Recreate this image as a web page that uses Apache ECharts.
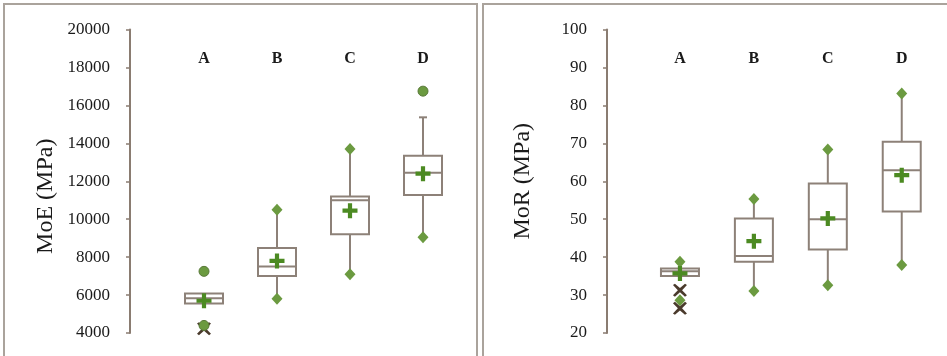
<!DOCTYPE html>
<html>
<head>
<meta charset="utf-8">
<script src="https://cdn.jsdelivr.net/npm/echarts@6/dist/echarts.min.js"></script>
<style>html,body{margin:0;padding:0;background:#fff}#c{width:947px;height:356px}</style>
</head>
<body>
<div id="c"></div>
<script>
// ---- data ----
const categories = ['A', 'B', 'C', 'D'];
// MoE (MPa)
const moeTicks = [4000, 20000, 2000];
const moeQ1     = [5550, 7000, 9200, 11280];
const moeMedian = [5830, 7500, 11000, 12450];
const moeQ3     = [6080, 8480, 11200, 13350];
const moeWhiskerLowEnd  = [5550, 5800, 7100, 9050];
const moeWhiskerHighEnd = [6080, 10500, 13700, 15370];
const moeCap = [0, 0, 0, 1];
const moeDiamonds = [[1, 10500], [1, 5800], [2, 13700], [2, 7100], [3, 9050]];
const moeMean = [5700, 7800, 10450, 12400];
const moeOutliers = [[0, 7250], [3, 16750], [0, 4400]];
const moeExtreme = [[0, 4230]];
// MoR (MPa)
const morTicks = [20, 100, 10];
const morQ1     = [35.0, 38.8, 42.0, 52.0];
const morMedian = [36.3, 40.3, 50.0, 62.9];
const morQ3     = [37.0, 50.2, 59.4, 70.4];
const morWhiskerLowEnd  = [35.0, 31.1, 32.6, 37.9];
const morWhiskerHighEnd = [38.8, 55.3, 68.4, 83.1];
const morCap = [0, 0, 0, 0];
const morDiamonds = [[0, 38.8], [0, 28.6], [1, 55.3], [1, 31.1], [2, 68.4], [2, 32.6], [3, 83.1], [3, 37.9]];
const morMean = [35.7, 44.2, 50.2, 61.6];
const morOutliers = [];
const morExtreme = [[0, 31.3], [0, 26.5]];

// ---- styles ----
const AXIS_C = '#8a7c71';
const BOX_C = '#8d8178';
const GREEN = '#6b9a40';
const PLUS_C = '#4c8a22';
const X_C = '#4a3a2c';
const SERIF = '"Liberation Serif", "DejaVu Serif", serif';
const PLUS_PATH = 'path://M-1.4,-5H1.4V-1.4H5V1.4H1.4V5H-1.4V1.4H-5V-1.4H-1.4Z';
const X_PATH = 'path://M-5,-4L-3.6,-5L0,-1.6L3.6,-5L5,-4L1.5,0L5,4L3.6,5L0,1.6L-3.6,5L-5,4L-1.5,0Z';

function boxData(lo, q1, med, q3, hi, cap) {
  return categories.map((c, i) => [i, lo[i], q1[i], med[i], q3[i], hi[i], cap[i]]);
}

function renderBox(params, api) {
  const i = api.value(0);
  const p = v => api.coord([i, v]);
  const x = p(api.value(2))[0];
  const yLo = p(api.value(1))[1], yQ1 = p(api.value(2))[1], yMed = p(api.value(3))[1];
  const yQ3 = p(api.value(4))[1], yHi = p(api.value(5))[1];
  const hw = 19;
  const ls = {stroke: BOX_C, lineWidth: 2, fill: null};
  const children = [
    {type: 'line', shape: {x1: x, y1: yLo, x2: x, y2: yQ1}, style: ls},
    {type: 'line', shape: {x1: x, y1: yQ3, x2: x, y2: yHi}, style: ls},
    {type: 'rect', shape: {x: x - hw, y: yQ3, width: 2 * hw, height: yQ1 - yQ3}, style: {stroke: BOX_C, lineWidth: 2, fill: '#fff'}},
    {type: 'line', shape: {x1: x - hw, y1: yMed, x2: x + hw, y2: yMed}, style: ls}
  ];
  if (api.value(6)) {
    children.push({type: 'line', shape: {x1: x - 4, y1: yHi, x2: x + 4, y2: yHi}, style: ls});
  }
  return {type: 'group', children};
}

function yAxisCfg(idx, ticks, name, offset, namePad) {
  return {
    type: 'value', gridIndex: idx, min: ticks[0], max: ticks[1], interval: ticks[2],
    offset: offset,
    name: name, nameLocation: 'middle', nameRotate: 90, nameGap: 72,
    nameTextStyle: {fontFamily: SERIF, fontSize: 24, color: '#1a1a1a', padding: namePad},
    axisLine: {show: true, lineStyle: {color: AXIS_C, width: 2}},
    axisTick: {show: true, length: 4, lineStyle: {color: AXIS_C, width: 1.5}},
    axisLabel: {fontFamily: SERIF, fontSize: 17, color: '#1a1a1a', margin: 20,
                formatter: v => String(v)},
    splitLine: {show: false}
  };
}
function xAxisCfg(idx) {
  return {
    type: 'category', gridIndex: idx, data: categories, position: 'top', boundaryGap: true,
    axisLine: {show: false}, axisTick: {show: false},
    axisLabel: {inside: true, margin: 21, fontFamily: SERIF, fontSize: 16, fontWeight: 'bold', color: '#1a1a1a'},
    splitLine: {show: false}
  };
}

function seriesFor(idx, lo, q1, med, q3, hi, cap, diamonds, mean, outliers, extreme) {
  return [
    {type: 'custom', xAxisIndex: idx, yAxisIndex: idx, renderItem: renderBox,
     encode: {x: 0, y: [1, 2, 3, 4, 5]}, data: boxData(lo, q1, med, q3, hi, cap), z: 2},
    {type: 'scatter', xAxisIndex: idx, yAxisIndex: idx, symbol: 'diamond', symbolSize: [11, 12],
     itemStyle: {color: GREEN, opacity: 1}, data: diamonds, z: 3},
    {type: 'scatter', xAxisIndex: idx, yAxisIndex: idx, symbol: X_PATH, symbolSize: [14, 13],
     itemStyle: {color: X_C, opacity: 1}, data: extreme, z: 3},
    {type: 'scatter', xAxisIndex: idx, yAxisIndex: idx, symbol: 'circle', symbolSize: 10,
     itemStyle: {color: GREEN, borderColor: '#5a7a3a', borderWidth: 1, opacity: 1}, data: outliers, z: 4},
    {type: 'scatter', xAxisIndex: idx, yAxisIndex: idx, symbol: PLUS_PATH, symbolSize: 15,
     itemStyle: {color: PLUS_C, opacity: 1}, data: mean.map((v, i) => [i, v]), z: 5}
  ];
}

const chart = echarts.init(document.getElementById('c'), null, {renderer: 'canvas'});
chart.setOption({
  animation: false,
  backgroundColor: '#ffffff',
  graphic: [
    {type: 'rect', shape: {x: 4, y: 4, width: 473, height: 362}, style: {stroke: '#aaa39c', lineWidth: 2, fill: null}, silent: true},
    {type: 'rect', shape: {x: 483, y: 4, width: 470, height: 362}, style: {stroke: '#aaa39c', lineWidth: 2, fill: null}, silent: true}
  ],
  grid: [
    {left: 167.5, right: 487.5, top: 29.5, bottom: 23},
    {left: 643, right: 8.3, top: 29.5, bottom: 23}
  ],
  xAxis: [xAxisCfg(0), xAxisCfg(1)],
  yAxis: [
    yAxisCfg(0, moeTicks, 'MoE (MPa)', 37.5, [0, 30, 0, 0]),
    yAxisCfg(1, morTicks, 'MoR (MPa)', 36, [0, 0, 0, 0])
  ],
  series: [
    ...seriesFor(0, moeWhiskerLowEnd, moeQ1, moeMedian, moeQ3, moeWhiskerHighEnd, moeCap, moeDiamonds, moeMean, moeOutliers, moeExtreme),
    ...seriesFor(1, morWhiskerLowEnd, morQ1, morMedian, morQ3, morWhiskerHighEnd, morCap, morDiamonds, morMean, morOutliers, morExtreme)
  ]
});
</script>
</body>
</html>
